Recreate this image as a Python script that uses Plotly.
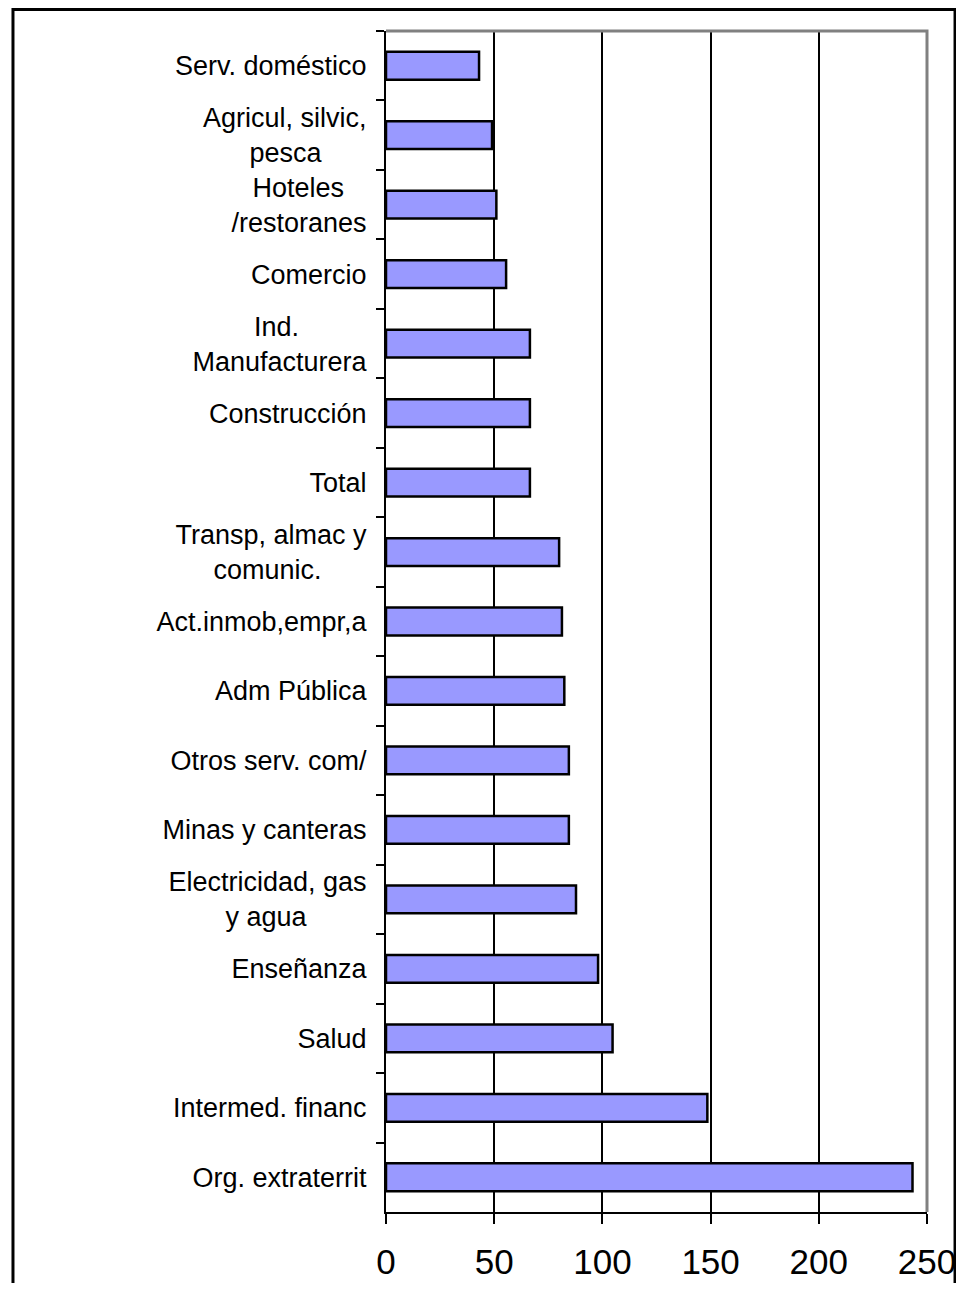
import plotly.graph_objects as go

NB = "\u00a0"

categories = [
    "Serv. doméstico",
    "Agricul, silvic,<br>pesca" + NB * 6,
    "Hoteles" + NB * 3 + "<br>/restoranes",
    "Comercio",
    "Ind." + NB * 9 + "<br>Manufacturera",
    "Construcción",
    "Total",
    "Transp, almac y<br>comunic." + NB * 6,
    "Act.inmob,empr,a",
    "Adm Pública",
    "Otros serv. com/",
    "Minas y canteras",
    "Electricidad, gas<br>y agua" + NB * 8,
    "Enseñanza",
    "Salud",
    "Intermed. financ",
    "Org. extraterrit",
]
values = [43, 49, 51, 55.5, 66.5, 66.5, 66.5, 80, 81.3, 82.4, 84.5, 84.5, 87.8, 98, 104.7, 148.5, 243.3]
x_ticks = [0, 50, 100, 150, 200, 250]

fig = go.Figure(
    go.Bar(
        x=values,
        y=categories,
        orientation="h",
        marker=dict(color="#9999FF", line=dict(color="black", width=2.5)),
    )
)

fig.update_layout(
    width=948,
    height=1275,
    margin=dict(l=378, r=29, t=23, b=71),
    paper_bgcolor="white",
    plot_bgcolor="white",
    bargap=0.6,
    showlegend=False,
    font=dict(family="Liberation Sans, Arial, sans-serif", color="black"),
    xaxis=dict(
        range=[0, 250],
        tickvals=x_ticks,
        ticks="outside",
        ticklen=10,
        tickwidth=2,
        tickcolor="black",
        showgrid=True,
        gridcolor="black",
        gridwidth=2,
        showline=True,
        linecolor="black",
        linewidth=2,
        zeroline=False,
        tickfont=dict(size=35),
        ticklabelstandoff=8,
        ticklabeloverflow="allow",
        automargin=False,
    ),
    yaxis=dict(
        type="category",
        categoryorder="array",
        categoryarray=categories,
        autorange="reversed",
        tickson="boundaries",
        ticks="outside",
        ticklen=8,
        tickwidth=2,
        tickcolor="black",
        showline=True,
        linecolor="black",
        linewidth=2,
        showgrid=False,
        tickfont=dict(size=27),
        ticklabelstandoff=12,
        automargin=False,
    ),
    shapes=[
        dict(
            type="path",
            xref="paper",
            yref="paper",
            path="M 0,1 L 1,1 L 1,0",
            line=dict(color="#808080", width=3),
            layer="above",
        ),
        dict(
            type="rect",
            xref="paper",
            yref="paper",
            x0=-0.6895,
            x1=1.0518,
            y0=-0.1,
            y1=1.0182,
            line=dict(color="black", width=3),
            layer="below",
        ),
    ],
)

fig.write_html("out.html")
